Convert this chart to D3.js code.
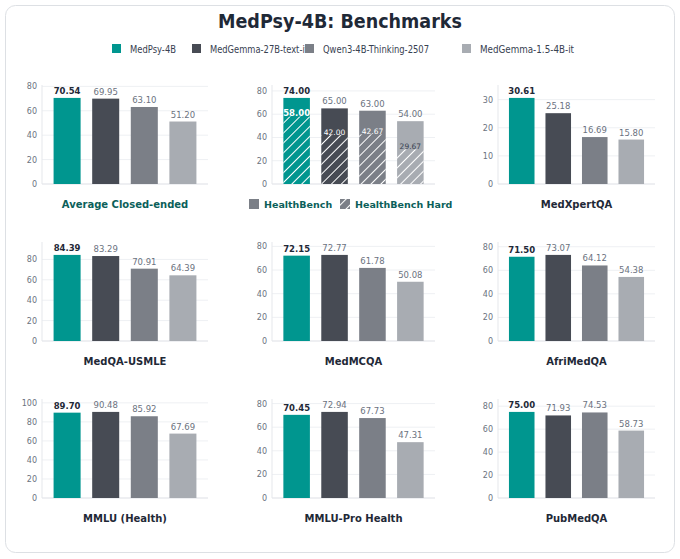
<!DOCTYPE html><html><head><meta charset="utf-8"><script src="https://cdn.jsdelivr.net/npm/d3@7"></script>
<style>body{margin:0;background:#fff;font-family:"DejaVu Sans",sans-serif}</style></head><body><svg id="c" width="680" height="559"></svg>
<script>
const models=["MedPsy-4B","MedGemma-27B-text-it","Qwen3-4B-Thinking-2507","MedGemma-1.5-4B-it"];
const colors=["#00968f","#474b54","#7b7f87","#a8acb2"];
const benchmarks=["Average Closed-ended","HealthBench","MedXpertQA","MedQA-USMLE","MedMCQA","AfriMedQA","MMLU (Health)","MMLU-Pro Health","PubMedQA"];
const values=[[70.54,69.95,63.10,51.20],[74.00,65.00,63.00,54.00],[30.61,25.18,16.69,15.80],[84.39,83.29,70.91,64.39],[72.15,72.77,61.78,50.08],[71.50,73.07,64.12,54.38],[89.70,90.48,85.92,67.69],[70.45,72.94,67.73,47.31],[75.00,71.93,74.53,58.73]];
const hardValues=[58.00,42.00,42.67,29.67];
const svg=d3.select("#c");
svg.append("rect").attr("x",5.5).attr("y",5.5).attr("width",669).attr("height",547).attr("rx",10).attr("fill","#fff").attr("stroke","#dde0e4");
svg.append("text").attr("x",340).attr("y",28).attr("text-anchor","middle").attr("font-size",19).attr("font-weight","bold").attr("textLength",244).attr("lengthAdjust","spacingAndGlyphs").attr("fill","#1f2937").text("MedPsy-4B: Benchmarks");
const defs=svg.append("defs");
const pat=defs.append("pattern").attr("id","hatch").attr("patternUnits","userSpaceOnUse").attr("width",7).attr("height",7).attr("patternTransform","rotate(45)");
pat.append("line").attr("x1",0).attr("y1",0).attr("x2",0).attr("y2",7).attr("stroke","#fff").attr("stroke-width",2);
const lg=svg.append("g");
const lx=[112,192,305,462],lw=[46,98,106,94];
models.forEach((m,i)=>{lg.append("rect").attr("x",lx[i]).attr("y",44).attr("width",9).attr("height",9).attr("fill",colors[i]);
lg.append("text").attr("x",lx[i]+18).attr("y",52.5).attr("font-size",10).attr("textLength",lw[i]).attr("lengthAdjust","spacingAndGlyphs").attr("fill","#374151").text(m);});
const colX=[42,272,498],colW=[166,163,157],rowB=[184,341,498],H=99;
benchmarks.forEach((b,k)=>{
 const r=Math.floor(k/3),c=k%3,x0=colX[c],w=colW[c],yb=rowB[r];
 const vals=values[k];
 const g=svg.append("g");
 const y=d3.scaleLinear().domain([0,d3.max(vals)*1.15]).range([yb,yb-H]);
 const x=d3.scaleBand().domain(models).range([x0,x0+w]).paddingInner(0.3).paddingOuter(0.3);
 const ticks=y.ticks(4);
 ticks.forEach(t=>{g.append("line").attr("x1",x0).attr("x2",x0+w).attr("y1",y(t)).attr("y2",y(t)).attr("stroke","#eef0f3");});
 g.append("line").attr("x1",x0).attr("x2",x0).attr("y1",yb).attr("y2",yb-H).attr("stroke","#e5e7eb");
 g.append("line").attr("x1",x0).attr("x2",x0+w).attr("y1",yb).attr("y2",yb).attr("stroke","#e5e7eb");
 ticks.forEach(t=>{g.append("text").attr("x",x0-5).attr("y",y(t)+3).attr("text-anchor","end").attr("font-size",8).attr("fill","#6b7280").text(t);});
 models.forEach((m,i)=>{
  g.append("rect").attr("x",x(m)).attr("y",y(vals[i])).attr("width",x.bandwidth()).attr("height",yb-y(vals[i])).attr("fill",colors[i]);
  g.append("text").attr("x",x(m)+x.bandwidth()/2).attr("y",y(vals[i])-4).attr("text-anchor","middle").attr("font-size",8.5)
   .attr("font-weight",i==0?"bold":"normal").attr("fill",i==0?"#1f2937":"#6b7280").text(vals[i].toFixed(2));
  if(k==1){
   g.append("rect").attr("x",x(m)).attr("y",y(hardValues[i])).attr("width",x.bandwidth()).attr("height",yb-y(hardValues[i])).attr("fill","url(#hatch)");
   g.append("text").attr("x",x(m)+x.bandwidth()/2).attr("y",y(hardValues[i])+(i==0?-1:0)).attr("text-anchor","middle").attr("font-size",i==0?8.5:7.5)
    .attr("font-weight",i==0?"bold":"normal").attr("fill",i==3?"#374151":"#fff").text(hardValues[i].toFixed(2));
  }
 });
 const ty=yb+24;
 if(k==1){
  g.append("rect").attr("x",249).attr("y",ty-9).attr("width",10).attr("height",10).attr("fill","#7b7f87");
  g.append("text").attr("x",264).attr("y",ty).attr("font-size",9.5).attr("font-weight","bold").attr("fill","#0b5f5a").text("HealthBench");
  g.append("rect").attr("x",340).attr("y",ty-9).attr("width",10).attr("height",10).attr("fill","#7b7f87");
  g.append("rect").attr("x",340).attr("y",ty-9).attr("width",10).attr("height",10).attr("fill","url(#hatch)");
  g.append("text").attr("x",355).attr("y",ty).attr("font-size",9.5).attr("font-weight","bold").attr("fill","#0b5f5a").text("HealthBench Hard");
 } else {
  g.append("text").attr("x",x0+w/2).attr("y",ty).attr("text-anchor","middle").attr("font-size",10).attr("font-weight","bold")
   .attr("fill",k==0?"#0b5f5a":"#1f2937").text(b);
 }
});
</script></body></html>
